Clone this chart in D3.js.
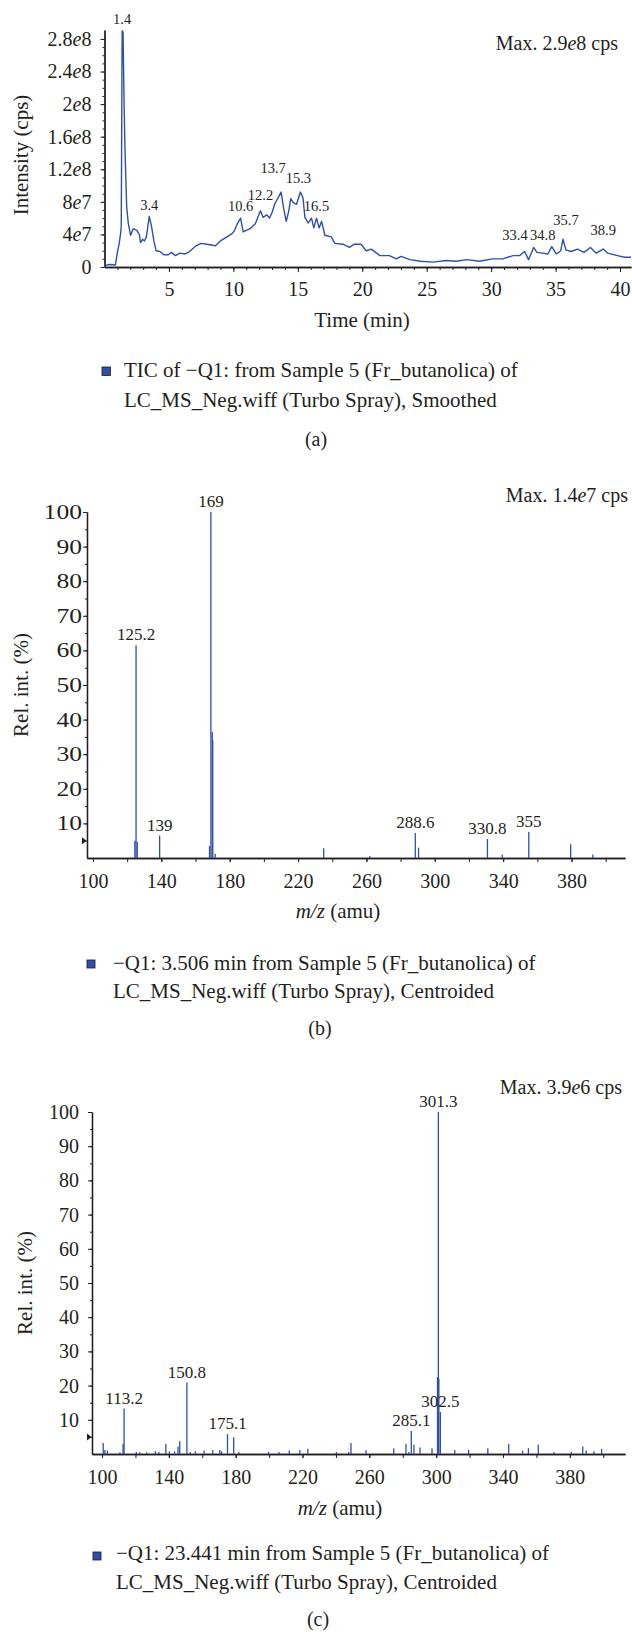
<!DOCTYPE html>
<html>
<head>
<meta charset="utf-8">
<script src="https://cdn.jsdelivr.net/npm/d3@7"></script>
<style>
  html, body { margin: 0; padding: 0; background: #fff; }
  svg { display: block; }
  text { font-family: "Liberation Serif", "Times New Roman", serif; fill: #231f20; }
</style>
</head>
<body>
<script>
// ---------------- DATA ----------------
// Panel (a): TIC chromatogram
const ticTime = [0, 0.4, 0.85, 0.99, 1.14, 1.25, 1.3, 1.37, 1.44, 1.52, 1.59, 1.72, 1.85, 2.03, 2.23, 2.5, 2.7, 2.8, 2.95, 3.1, 3.25, 3.47, 3.65, 3.83, 4.0, 4.3, 4.6, 4.95, 5.2, 5.5, 5.85, 6.25, 6.6, 7.1, 7.5, 7.9, 8.3, 8.6, 9.0, 9.5, 9.9, 10.1, 10.3, 10.56, 10.76, 11.0, 11.3, 11.7, 11.9, 12.1, 12.3, 12.6, 12.8, 13.0, 13.2, 13.7, 13.9, 14.1, 14.3, 14.45, 14.65, 14.9, 15.2, 15.4, 15.55, 15.8, 16.06, 16.24, 16.45, 16.65, 16.84, 17.1, 17.6, 17.87, 18.5, 19.0, 19.4, 19.9, 20.3, 20.7, 21.36, 22.1, 22.65, 23.0, 23.7, 24.5, 25.5, 26.5, 27.3, 28.1, 29.1, 30.1, 30.9, 31.7, 32.2, 32.6, 32.9, 33.3, 33.55, 34.0, 34.4, 34.7, 35.05, 35.4, 35.57, 35.8, 36.2, 36.7, 37.2, 37.7, 38.15, 38.7, 39.05, 39.8, 40.35, 40.85];
const ticIntensity = [0.02e8, 0.03e8, 0.025e8, 0.17e8, 0.29e8, 0.41e8, 0.5e8, 2.9e8, 2.88e8, 2.0e8, 1.44e8, 0.74e8, 0.53e8, 0.39e8, 0.47e8, 0.45e8, 0.4e8, 0.3e8, 0.34e8, 0.32e8, 0.37e8, 0.62e8, 0.5e8, 0.32e8, 0.2e8, 0.19e8, 0.15e8, 0.15e8, 0.18e8, 0.14e8, 0.17e8, 0.16e8, 0.19e8, 0.26e8, 0.29e8, 0.28e8, 0.27e8, 0.26e8, 0.32e8, 0.37e8, 0.41e8, 0.45e8, 0.53e8, 0.6e8, 0.43e8, 0.45e8, 0.47e8, 0.53e8, 0.61e8, 0.69e8, 0.61e8, 0.64e8, 0.6e8, 0.67e8, 0.77e8, 0.92e8, 0.72e8, 0.56e8, 0.69e8, 0.84e8, 0.79e8, 0.77e8, 0.92e8, 0.85e8, 0.61e8, 0.54e8, 0.6e8, 0.48e8, 0.6e8, 0.48e8, 0.56e8, 0.39e8, 0.37e8, 0.29e8, 0.28e8, 0.24e8, 0.28e8, 0.28e8, 0.2e8, 0.22e8, 0.14e8, 0.14e8, 0.1e8, 0.13e8, 0.09e8, 0.07e8, 0.06e8, 0.08e8, 0.07e8, 0.09e8, 0.07e8, 0.1e8, 0.1e8, 0.14e8, 0.14e8, 0.19e8, 0.09e8, 0.24e8, 0.18e8, 0.17e8, 0.16e8, 0.25e8, 0.16e8, 0.2e8, 0.34e8, 0.21e8, 0.19e8, 0.22e8, 0.18e8, 0.24e8, 0.17e8, 0.22e8, 0.17e8, 0.14e8, 0.12e8, 0.12e8];
const ticPeakLabels = [1.4, 3.4, 10.6, 12.2, 13.7, 15.3, 16.5, 33.4, 34.8, 35.7, 38.9];
const ticXTicks = [5, 10, 15, 20, 25, 30, 35, 40];
const ticYTicks = [0, 4e7, 8e7, 1.2e8, 1.6e8, 2e8, 2.4e8, 2.8e8];
const ticYTickLabels = ["0", "4e7", "8e7", "1.2e8", "1.6e8", "2e8", "2.4e8", "2.8e8"];

// Panel (b): spectrum at 3.506 min
const specBmz = [124.5, 125.2, 125.9, 139, 168.2, 169, 169.8, 170.1, 171.5, 235, 262, 288.6, 290.5, 330.8, 339.5, 355, 379.5, 392.5];
const specBint = [5, 61.5, 4.6, 6.5, 3.5, 100, 36.4, 34, 1.2, 2.8, 0.6, 7.2, 3, 5.5, 1, 7.5, 4, 1];
const specBLabels = [125.2, 139, 169, 288.6, 330.8, 355];

// Panel (c): spectrum at 23.441 min
const specCmz = [100.7, 101.7, 103.2, 110.7, 112.6, 113.2, 120.5, 122.6, 126.7, 131.9, 134, 138.2, 140.3, 143.4, 145.5, 146.5, 150.8, 152.8, 155.9, 161.1, 166.3, 170.5, 171.5, 175.1, 178.8, 181.9, 199.6, 205.9, 212.1, 218.4, 223.2, 240.3, 247.6, 249, 258, 274.6, 281.9, 283.6, 285.1, 286.7, 290.3, 297.5, 300.8, 301.3, 301.6, 302.5, 311.1, 319.4, 330.9, 343.4, 351.7, 355.2, 361.1, 370.5, 380.9, 387.7, 389.8, 394.4, 399];
const specCint = [3.2, 1.2, 1, 0.5, 3, 13.3, 0.6, 0.5, 0.5, 0.8, 0.6, 3, 0.8, 0.8, 2.2, 3.7, 20.9, 0.6, 0.8, 1, 1.2, 1.2, 0.8, 5.8, 4.9, 0.6, 0.6, 0.6, 1, 1.2, 1.5, 0.6, 0.6, 3.2, 1.1, 1.7, 3, 0.6, 6.7, 2.7, 1.9, 1.7, 22.5, 100, 22, 12.3, 1.2, 1.2, 1.7, 2.9, 1, 1.7, 2.7, 0.6, 0.6, 2.2, 1, 0.8, 1.5];
const specCLabels = [113.2, 150.8, 175.1, 285.1, 301.3, 302.5];

const mzTicks = [100, 140, 180, 220, 260, 300, 340, 380];
const mzMinorTicks = d3.range(100, 401, 20);
const pctTicks = [10, 20, 30, 40, 50, 60, 70, 80, 90, 100];
const pctMinorTicks = d3.range(5, 100, 5);

const captionA = ["TIC of \u2212Q1: from Sample 5 (Fr_butanolica) of", "LC_MS_Neg.wiff (Turbo Spray), Smoothed"];
const captionB = ["\u2212Q1: 3.506 min from Sample 5 (Fr_butanolica) of", "LC_MS_Neg.wiff (Turbo Spray), Centroided"];
const captionC = ["\u2212Q1: 23.441 min from Sample 5 (Fr_butanolica) of", "LC_MS_Neg.wiff (Turbo Spray), Centroided"];
const maxA = ["Max. 2.9", "e", "8 cps"];
const maxB = ["Max. 1.4", "e", "7 cps"];
const maxC = ["Max. 3.9", "e", "6 cps"];

// ---------------- DRAWING ----------------
const BLUE = "#2f4fae";
const INK = "#231f20";
const svg = d3.select("body").append("svg").attr("width", 632).attr("height", 1632);

function styleAxis(g) {
  g.select(".domain").attr("stroke", INK).attr("stroke-width", 1.3);
  g.selectAll(".tick line").attr("stroke", INK).attr("stroke-width", 1);
  g.selectAll(".tick text").attr("font-family", '"Liberation Serif", "Times New Roman", serif').attr("font-size", 20).attr("fill", INK);
}

function italicE(sel, labels) {
  sel.selectAll(".tick text").each(function(d, i) {
    const t = d3.select(this);
    const s = labels[i];
    t.text(null);
    const idx = s.indexOf("e");
    if (idx < 0) { t.text(s); return; }
    t.append("tspan").text(s.slice(0, idx));
    t.append("tspan").attr("font-style", "italic").text("e");
    t.append("tspan").text(s.slice(idx + 1));
  });
}

function maxText(parts, x, y) {
  const t = svg.append("text").attr("x", x).attr("y", y).attr("text-anchor", "end").attr("font-size", 20);
  t.append("tspan").text(parts[0]);
  t.append("tspan").attr("font-style", "italic").text(parts[1]);
  t.append("tspan").text(parts[2]);
}

function caption(lines, sqX, sqY, sqS, tx, y1, y2) {
  svg.append("rect").attr("x", sqX).attr("y", sqY).attr("width", sqS).attr("height", sqS)
    .attr("fill", BLUE).attr("stroke", "#1a1a1a").attr("stroke-width", 0.8);
  svg.append("text").attr("x", tx).attr("y", y1).attr("font-size", 21).text(lines[0]);
  svg.append("text").attr("x", tx).attr("y", y2).attr("font-size", 21).text(lines[1]);
}

function mzTitle(cx, y) {
  const t = svg.append("text").attr("x", cx).attr("y", y).attr("text-anchor", "middle").attr("font-size", 21);
  t.append("tspan").attr("font-style", "italic").text("m/z");
  t.append("tspan").text(" (amu)");
}

// ===== Panel (a) =====
const xA = d3.scaleLinear().domain([0, 40.85]).range([104.5, 631]);
const yA = d3.scaleLinear().domain([0, 2.91e8]).range([267, 30]);

// minor ticks
svg.append("g").attr("transform", `translate(0,${yA(0)})`)
  .call(d3.axisBottom(xA).tickValues(d3.range(1, 41, 1)).tickSize(3).tickSizeOuter(0).tickFormat(""))
  .call(styleAxis);
svg.append("g").attr("transform", `translate(${xA(0)},0)`)
  .call(d3.axisLeft(yA).tickValues(d3.range(1e7, 2.9e8, 1e7)).tickSize(2).tickSizeOuter(0).tickFormat(""))
  .call(styleAxis);
// major ticks
svg.append("g").attr("transform", `translate(0,${yA(0)})`)
  .call(d3.axisBottom(xA).tickValues(ticXTicks).tickSize(5).tickSizeOuter(0).tickPadding(10).tickFormat(d => d))
  .call(styleAxis);
const gyA = svg.append("g").attr("transform", `translate(${xA(0)},0)`)
  .call(d3.axisLeft(yA).tickValues(ticYTicks).tickSize(4).tickSizeOuter(0).tickPadding(9))
  .call(styleAxis);
italicE(gyA, ticYTickLabels);

const lineA = d3.line().x((d, i) => xA(ticTime[i])).y(d => yA(d)).curve(d3.curveLinear);
svg.append("path").datum(ticIntensity).attr("d", lineA)
  .attr("fill", "none").attr("stroke", BLUE).attr("stroke-width", 1.4).attr("stroke-linejoin", "round");

// peak labels (a): placement tweaks (pixels) to keep labels apart as in the original
const labelGapA = { 12.2: 11, 13.7: 19, 15.3: 9, 35.7: 14, 38.9: 14 };
const labelDxA = { 13.7: -8, 15.3: -2, 33.4: -6, 34.8: -9, 35.7: 3 };
ticPeakLabels.forEach(p => {
  let best = -1, bi = 0;
  ticTime.forEach((t, i) => { if (Math.abs(t - p) <= 0.35 && ticIntensity[i] > best) { best = ticIntensity[i]; bi = i; } });
  const anchor = p === 33.4 ? "end" : "middle";
  const gap = labelGapA[p] !== undefined ? labelGapA[p] : 7;
  const dx = labelDxA[p] || 0;
  svg.append("text").attr("x", xA(ticTime[bi]) + dx).attr("y", yA(best) - gap)
    .attr("text-anchor", anchor).attr("font-size", 14.5).text(p);
});

maxText(maxA, 618, 50);

svg.append("text").attr("transform", `translate(28,155) rotate(-90)`).attr("text-anchor", "middle")
  .attr("font-size", 21).text("Intensity (cps)");
svg.append("text").attr("x", 362).attr("y", 327).attr("text-anchor", "middle").attr("font-size", 21).text("Time (min)");

caption(captionA, 102, 367, 8.5, 124, 377, 407);
svg.append("text").attr("x", 316).attr("y", 446).attr("text-anchor", "middle").attr("font-size", 20).text("(a)");

// ===== spectrum panel helper =====
function spectrum(opts) {
  const { x, y, mz, inten, labels, yLabelGap, yLabelStretch, xLabelPad, yTitleX, mzTitleX, mzTitleY, maxParts, maxX, maxY } = opts;
  const y0 = y(0);
  const x0 = x.range()[0];
  svg.append("g").attr("transform", `translate(0,${y0})`)
    .call(d3.axisBottom(x).tickValues(mzMinorTicks).tickSize(4).tickSizeOuter(0).tickFormat(""))
    .call(styleAxis);
  svg.append("g").attr("transform", `translate(0,${y0})`)
    .call(d3.axisBottom(x).tickValues(mzTicks).tickSize(4).tickSizeOuter(0).tickPadding(xLabelPad).tickFormat(d => d))
    .call(styleAxis);
  svg.append("g").attr("transform", `translate(${x0},0)`)
    .call(d3.axisLeft(y).tickValues(pctMinorTicks).tickSize(2).tickSizeOuter(0).tickFormat(""))
    .call(styleAxis);
  const gy = svg.append("g").attr("transform", `translate(${x0},0)`)
    .call(d3.axisLeft(y).tickValues(pctTicks).tickSize(4).tickSizeOuter(0).tickPadding(yLabelGap).tickFormat(d => d))
    .call(styleAxis);
  if (yLabelStretch !== 1) {
    gy.selectAll(".tick text")
      .attr("x", -(4 + yLabelGap) / yLabelStretch)
      .attr("transform", `scale(${yLabelStretch},1)`);
  }
  // threshold marker
  const ty = y(5);
  svg.append("path").attr("d", `M${x0 - 5},${ty - 3.5}L${x0 - 0.5},${ty}L${x0 - 5},${ty + 3.5}Z`).attr("fill", INK);
  // sticks
  svg.append("g").selectAll("line").data(mz).join("line")
    .attr("x1", d => x(d)).attr("x2", d => x(d))
    .attr("y1", y0).attr("y2", (d, i) => y(inten[i]))
    .attr("stroke", BLUE).attr("stroke-width", 1.3);
  // labels
  labels.forEach(l => {
    const i = mz.indexOf(l);
    svg.append("text").attr("x", x(l)).attr("y", y(inten[i]) - 5)
      .attr("text-anchor", "middle").attr("font-size", 17).text(l);
  });
  const yc = (y(0) + y(100)) / 2;
  svg.append("text").attr("transform", `translate(${yTitleX},${yc}) rotate(-90)`).attr("text-anchor", "middle")
    .attr("font-size", 21).text("Rel. int. (%)");
  mzTitle(mzTitleX, mzTitleY);
  maxText(maxParts, maxX, maxY);
}

// ===== Panel (b) =====
const xB = d3.scaleLinear().domain([96.5, 411.3]).range([87, 625]);
const yB = d3.scaleLinear().domain([0, 100]).range([858, 512]);
spectrum({ x: xB, y: yB, mz: specBmz, inten: specBint, labels: specBLabels, yLabelGap: 1, yLabelStretch: 1.28, xLabelPad: 12,
  yTitleX: 28, mzTitleX: 338, mzTitleY: 918, maxParts: maxB, maxX: 628, maxY: 502 });
caption(captionB, 87, 960, 8, 113, 970, 998);
svg.append("text").attr("x", 320).attr("y", 1035).attr("text-anchor", "middle").attr("font-size", 20).text("(b)");

// ===== Panel (c) =====
const xC = d3.scaleLinear().domain([94, 413]).range([92, 625]);
const yC = d3.scaleLinear().domain([0, 100]).range([1454, 1112]);
spectrum({ x: xC, y: yC, mz: specCmz, inten: specCint, labels: specCLabels, yLabelGap: 9, yLabelStretch: 1, xLabelPad: 12,
  yTitleX: 32, mzTitleX: 340, mzTitleY: 1515, maxParts: maxC, maxX: 622, maxY: 1094 });
caption(captionC, 93, 1552, 8, 116, 1560, 1589);
svg.append("text").attr("x", 318).attr("y", 1626).attr("text-anchor", "middle").attr("font-size", 20).text("(c)");
</script>
</body>
</html>
